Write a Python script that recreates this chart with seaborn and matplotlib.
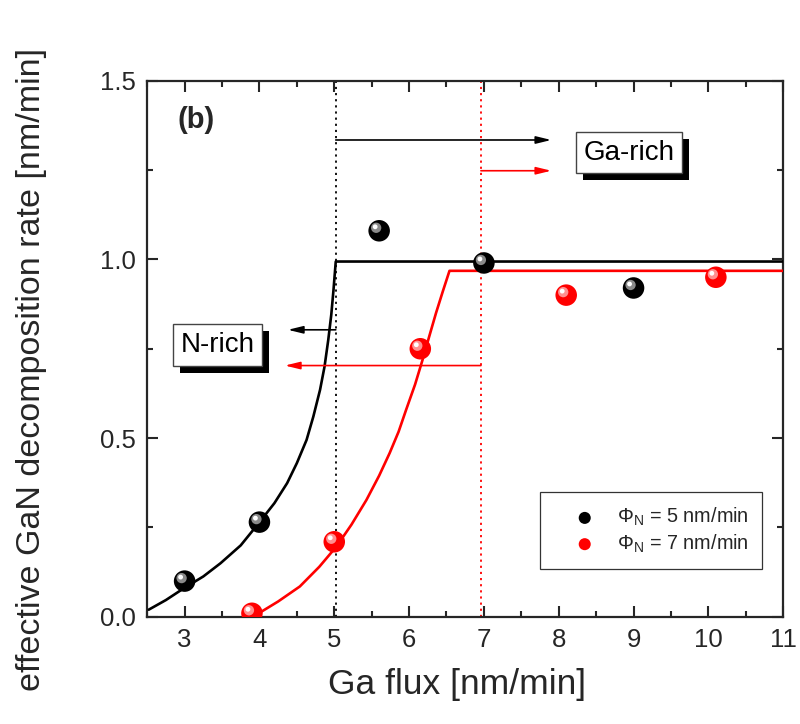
import numpy as np
import pandas as pd
import matplotlib
matplotlib.use("Agg")
import matplotlib.pyplot as plt
import matplotlib.transforms as mtransforms
import matplotlib.patches as mpatches
from matplotlib.ticker import MultipleLocator
import seaborn as sns

# ---------------- data ----------------
ga_flux_5 = [3.0, 4.0, 5.6, 7.0, 9.0]
rate_5 = [0.10, 0.265, 1.08, 0.99, 0.92]
ga_flux_7 = [3.9, 5.0, 6.15, 8.1, 10.1]
rate_7 = [0.01, 0.21, 0.75, 0.90, 0.95]

fit5_x = [2.52, 2.75, 2.99, 3.25, 3.48, 3.75, 3.99, 4.20, 4.37, 4.50, 4.63, 4.72,
          4.81, 4.87, 4.92, 4.96, 4.99, 5.02, 11.0]
fit5_y = [0.020, 0.047, 0.080, 0.113, 0.150, 0.200, 0.262, 0.318, 0.374, 0.430,
          0.495, 0.560, 0.635, 0.700, 0.775, 0.845, 0.915, 0.994, 0.994]
fit7_x = [3.96, 4.25, 4.54, 4.80, 5.03, 5.23, 5.43, 5.60, 5.74, 5.86, 5.96, 6.08,
          6.18, 6.27, 6.36, 6.45, 6.54, 11.0]
fit7_y = [0.006, 0.043, 0.085, 0.140, 0.197, 0.258, 0.327, 0.395, 0.458, 0.518,
          0.579, 0.650, 0.719, 0.785, 0.850, 0.910, 0.968, 0.968]

boundary_5 = 5.02
boundary_7 = 6.96

series_labels = [r"$\Phi_\mathrm{N}$ = 5 nm/min", r"$\Phi_\mathrm{N}$ = 7 nm/min"]
x_ticks = [3, 4, 5, 6, 7, 8, 9, 10, 11]
y_ticks = [0.0, 0.5, 1.0, 1.5]

# ---------------- style ----------------
sns.set_style("ticks")
plt.rcParams["font.family"] = ["Liberation Sans", "DejaVu Sans"]
plt.rcParams["mathtext.fontset"] = "custom"
plt.rcParams["mathtext.rm"] = "Liberation Sans"
plt.rcParams["mathtext.it"] = "Liberation Sans:italic"
plt.rcParams["mathtext.bf"] = "Liberation Sans:bold"

fig = plt.figure(figsize=(8.0, 7.24), dpi=100)
ax = fig.add_axes([0.184, 0.148, 0.795, 0.7406])

pts = pd.DataFrame({
    "x": ga_flux_5 + ga_flux_7,
    "y": rate_5 + rate_7,
    "series": [series_labels[0]] * len(ga_flux_5) + [series_labels[1]] * len(ga_flux_7),
})
fits = pd.DataFrame({
    "x": fit5_x + fit7_x,
    "y": fit5_y + fit7_y,
    "series": [series_labels[0]] * len(fit5_x) + [series_labels[1]] * len(fit7_x),
})
palette = {series_labels[0]: "black", series_labels[1]: "#ff0000"}

# fit curves
sns.lineplot(data=fits, x="x", y="y", hue="series", palette=palette, sort=False,
             estimator=None, linewidth=1.9, legend=False, ax=ax, zorder=3)

# vertical boundary lines
ax.axvline(boundary_5, color="black", linestyle=(0, (1.2, 2.2)), linewidth=1.3, zorder=2)
ax.axvline(boundary_7, color="#ff0000", linestyle=(0, (1.2, 2.2)), linewidth=1.3, zorder=2)

# arrows
def arrow(x0, x1, y, color):
    ax.annotate("", xy=(x1, y), xytext=(x0, y),
                arrowprops=dict(arrowstyle="-|>,head_length=0.9,head_width=0.22",
                                color=color, lw=1.2, shrinkA=0, shrinkB=0), zorder=4)

arrow(boundary_5, 7.9, 1.334, "black")
arrow(boundary_7, 7.9, 1.248, "#ff0000")
arrow(boundary_5, 4.38, 0.803, "black")
arrow(boundary_7, 4.34, 0.703, "#ff0000")

# spherical-looking markers
sns.scatterplot(data=pts, x="x", y="y", hue="series", palette=palette, s=240,
                edgecolor="none", legend=False, ax=ax, zorder=5)
hl1 = mtransforms.offset_copy(ax.transData, fig=fig, x=-3, y=3, units="dots")
hl2 = mtransforms.offset_copy(ax.transData, fig=fig, x=-4, y=4, units="dots")
for xs, ys, c1 in [(ga_flux_5, rate_5, "#8a8a8a"), (ga_flux_7, rate_7, "#ff9090")]:
    ax.scatter(xs, ys, s=55, color=c1, edgecolor="none", transform=hl1, zorder=6)
    ax.scatter(xs, ys, s=12, color="white", edgecolor="none", transform=hl2, zorder=7)

# legend
h1 = ax.scatter([], [], s=75, color="black", edgecolor="none")
h2 = ax.scatter([], [], s=75, color="#ff0000", edgecolor="none")
leg = ax.legend([h1, h2], series_labels, loc="lower right", bbox_to_anchor=(0.967, 0.09),
                frameon=True, fancybox=False, edgecolor="black", fontsize=14.3,
                handlelength=3.1, handletextpad=0.05, borderpad=0.7, labelspacing=0.2,
                borderaxespad=0)
leg.get_frame().set_linewidth(0.9)

# boxed labels (shadow added after layout)
box_texts = []
for x, y, text in [(8.94, 1.299, "Ga-rich"), (3.44, 0.761, "N-rich")]:
    t = ax.text(x, y, text, fontsize=20, color="black", ha="center", va="center",
                bbox=dict(boxstyle="square,pad=0.28", facecolor="white",
                          edgecolor="#444444", lw=1.0), zorder=9)
    box_texts.append(t)

ax.text(2.91, 1.39, "(b)", fontsize=21, fontweight="bold", ha="left", va="center")

# axes
ax.set_xlim(2.5, 11)
ax.set_ylim(0, 1.5)
ax.set_xticks(x_ticks)
ax.set_yticks(y_ticks)
ax.set_yticklabels([f"{v:.1f}" for v in y_ticks])
ax.xaxis.set_minor_locator(MultipleLocator(0.5))
ax.yaxis.set_minor_locator(MultipleLocator(0.25))
ax.tick_params(which="both", direction="in", top=True, right=True, width=1.5)
ax.tick_params(which="major", length=8, labelsize=18.5, pad=8)
ax.tick_params(which="minor", length=4.5)
for sp in ax.spines.values():
    sp.set_linewidth(1.6)
    sp.set_visible(True)

ax.set_xlabel("Ga flux [nm/min]", fontsize=25.5)
ax.set_ylabel("effective GaN decomposition rate [nm/min]", fontsize=24.5)
ax.xaxis.set_label_coords(0.487, -0.095)
ax.yaxis.set_label_coords(-0.158, 0.462)

# drop shadows behind the boxed labels
fig.canvas.draw()
for t in box_texts:
    bb = t.get_bbox_patch().get_window_extent()
    shadow = mpatches.Rectangle((bb.x0 + 7, bb.y0 - 7), bb.width, bb.height,
                                facecolor="black", edgecolor="none",
                                transform=mtransforms.IdentityTransform(), zorder=8)
    ax.add_patch(shadow)

fig.savefig("out.png", dpi=100)
